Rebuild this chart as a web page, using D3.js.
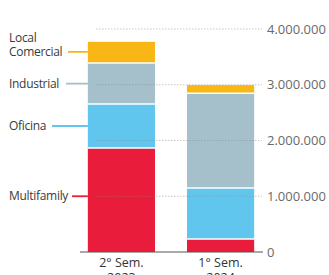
<!DOCTYPE html>
<html><head><meta charset="utf-8">
<script src="https://cdn.jsdelivr.net/npm/d3@7"></script>
<style>body{margin:0;background:#fff;overflow:hidden}svg{display:block}text{font-family:"Open Sans",sans-serif}</style>
</head><body>
<script>
const periods = ["2° Sem.|2023", "1° Sem.|2024"];
const seriesNames = ["Multifamily", "Oficina", "Industrial", "Local Comercial"];
const multifamily = [1865000, 233000];
const oficina = [790000, 915000];
const industrial = [735000, 1700000];
const localComercial = [380000, 145000];
const tickValues = [0, 1000000, 2000000, 3000000, 4000000];
const tickLabels = ["0", "1.000.000", "2.000.000", "3.000.000", "4.000.000"];
const colors = ["#e91c3b", "#61c6ee", "#a5c0cb", "#f9b716"];
const labelLines = [["Multifamily"], ["Oficina"], ["Industrial"], ["Local", "Comercial"]];
const labelValues = [1000000, 2260000, 3020000, 3590000];

const W = 329, H = 275;
const svg = d3.select("body").append("svg").attr("width", W).attr("height", H);

const rows = periods.map((p, i) => ({period: p, Multifamily: multifamily[i], Oficina: oficina[i], Industrial: industrial[i], "Local Comercial": localComercial[i]}));
const stack = d3.stack().keys(seriesNames)(rows);

const y = d3.scaleLinear().domain([0, 4000000]).range([252, 29]);
const x = d3.scaleBand().domain(periods).range([68, 274]).paddingInner(0.323).paddingOuter(0.2);

// bars
stack.forEach((s, si) => {
  svg.append("g").selectAll("rect").data(s).join("rect")
    .attr("x", d => x(d.data.period))
    .attr("width", x.bandwidth())
    .attr("y", d => y(d[1]))
    .attr("height", d => y(d[0]) - y(d[1]))
    .attr("fill", colors[si]);
});
// white separators
stack.slice(0, -1).forEach(s => {
  svg.append("g").selectAll("line").data(s).join("line")
    .attr("x1", d => x(d.data.period)).attr("x2", d => x(d.data.period) + x.bandwidth())
    .attr("y1", d => y(d[1])).attr("y2", d => y(d[1]))
    .attr("stroke", "#fff").attr("stroke-width", 1.5);
});

// gridlines + labels
const axis = svg.append("g");
tickValues.forEach((t, i) => {
  if (t > 0) {
    axis.append("line").attr("x1", 96).attr("x2", 262).attr("y1", y(t)).attr("y2", y(t))
      .attr("stroke", "#8a8a8a").attr("stroke-opacity", 0.6).attr("stroke-width", 0.8).attr("stroke-dasharray", "1.5,1.5");
  }
  axis.append("text").attr("x", 267).attr("y", y(t)).attr("dy", "0.35em")
    .attr("font-size", 13).attr("fill", "#6a6a6a").text(tickLabels[i]);
});
// baseline
svg.append("line").attr("x1", 80).attr("x2", 263).attr("y1", y(0)).attr("y2", y(0))
  .attr("stroke", "#555").attr("stroke-width", 1);

// x labels
periods.forEach(p => {
  const cx = x(p) + x.bandwidth() / 2;
  const parts = p.split("|");
  parts.forEach((t, k) => {
    svg.append("text").attr("x", cx).attr("y", 267 + k * 15).attr("text-anchor", "middle")
      .attr("font-size", 12.5).attr("fill", "#333").text(t);
  });
});

// series labels with leader lines
const lineStart = [72, 52, 66, 68];
const bx = x(periods[0]);
seriesNames.forEach((n, i) => {
  const ly = y(labelValues[i]);
  svg.append("line").attr("x1", lineStart[i]).attr("x2", bx).attr("y1", ly).attr("y2", ly)
    .attr("stroke", colors[i]).attr("stroke-width", 1.8);
  const ls = labelLines[i];
  ls.forEach((t, k) => {
    svg.append("text").attr("x", 9).attr("y", ly - (ls.length - 1 - k) * 14).attr("dy", "0.35em")
      .attr("font-size", 12).attr("fill", "#3a3a3a").attr("letter-spacing", -0.3).text(t);
  });
});
</script>
</body></html>
